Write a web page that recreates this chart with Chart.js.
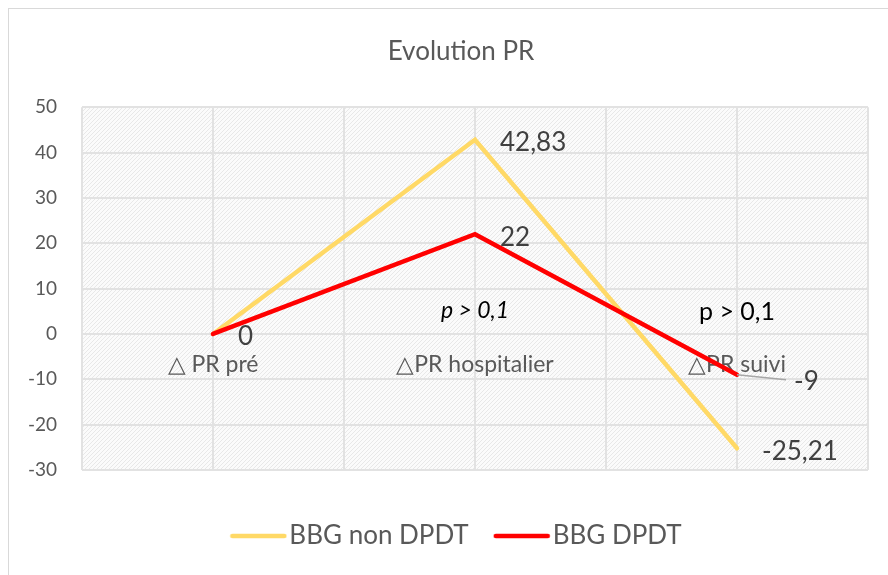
<!DOCTYPE html>
<html lang="fr">
<head>
    <meta charset="UTF-8">
    <title>Evolution PR</title>
    <script src="https://cdn.jsdelivr.net/npm/chart.js"></script>
    <style>
        body { margin: 0; background: #fff; overflow: hidden; }
        .frame {
            position: absolute;
            left: 8px;
            top: 8px;
            width: 896px;
            height: 580px;
            border: 1px solid #d9d9d9;
        }
    </style>
</head>
<body>

<div class="frame">
    <canvas id="prChart" width="896" height="580"></canvas>
</div>

<script>
    // Data
    const categories = ['△ PR pré', '△PR hospitalier', '△PR suivi'];
    const seriesNames = ['BBG non DPDT', 'BBG DPDT'];
    const nonDpdt = [0, 42.83, -25.21];
    const dpdt = [0, 22, -9];
    const yMin = -30, yMax = 50, yStep = 10;
    const pNotes = ['p > 0,1', 'p > 0,1'];

    const FONT = 'Lato, "Open Sans", sans-serif';
    const GRID = '#e2e2e2';

    // light diagonal hatch for the plot area
    function makeHatch(ctx) {
        const c = document.createElement('canvas');
        c.width = c.height = 4;
        const g = c.getContext('2d');
        g.fillStyle = '#fbfbfb';
        g.fillRect(0, 0, 4, 4);
        g.fillStyle = '#e8e8e8';
        for (let i = 0; i < 4; i++) g.fillRect(i, 3 - i, 1, 1);
        return ctx.createPattern(c, 'repeat');
    }

    // short thick line used as legend symbol
    function legendLine(color) {
        const c = document.createElement('canvas');
        c.width = 58;
        c.height = 8;
        const g = c.getContext('2d');
        g.strokeStyle = color;
        g.lineWidth = 4.5;
        g.lineCap = 'round';
        g.beginPath();
        g.moveTo(3, 4);
        g.lineTo(55, 4);
        g.stroke();
        return c;
    }

    const fmt = v => String(v).replace('.', ',');

    const backgroundPlugin = {
        id: 'hatchBg',
        beforeDraw(chart) {
            const { ctx, chartArea: a } = chart;
            ctx.save();
            ctx.fillStyle = makeHatch(ctx);
            ctx.fillRect(a.left, a.top, a.right - a.left, a.bottom - a.top);
            ctx.restore();
        }
    };

    const labelPlugin = {
        id: 'valueLabels',
        afterDatasetsDraw(chart) {
            const { ctx, scales } = chart;
            ctx.save();
            ctx.font = '26px ' + FONT;
            ctx.fillStyle = '#404040';
            ctx.textBaseline = 'middle';
            ctx.textAlign = 'left';
            const seen = {};
            chart.data.datasets.forEach((ds, di) => {
                const meta = chart.getDatasetMeta(di);
                meta.data.forEach((pt, i) => {
                    const txt = fmt(ds.data[i]);
                    const key = i + ':' + txt;
                    if (seen[key]) return;
                    seen[key] = true;
                    let dx = 25, dy = 3;
                    if (di === 1 && i === 2) {
                        // moved label with leader line
                        dx = 57; dy = 7;
                        ctx.strokeStyle = '#a6a6a6';
                        ctx.lineWidth = 1.5;
                        ctx.beginPath();
                        ctx.moveTo(pt.x, pt.y);
                        ctx.lineTo(pt.x + 49, pt.y + 5);
                        ctx.stroke();
                    }
                    ctx.fillText(txt, pt.x + dx, pt.y + dy);
                });
            });

            // significance notes
            ctx.fillStyle = '#000';
            ctx.textAlign = 'center';
            ctx.font = 'italic 23px ' + FONT;
            ctx.fillText(pNotes[0], scales.x.getPixelForValue(1), scales.y.getPixelForValue(5.1));
            ctx.font = '25px ' + FONT;
            ctx.fillText(pNotes[1], scales.x.getPixelForValue(2), scales.y.getPixelForValue(4.9));
            ctx.restore();
        }
    };

    const ctx = document.getElementById('prChart').getContext('2d');

    new Chart(ctx, {
        type: 'line',
        data: {
            labels: categories,
            datasets: [
                {
                    label: seriesNames[0],
                    data: nonDpdt,
                    borderColor: '#ffd966',
                    backgroundColor: '#ffd966',
                    borderWidth: 4.5,
                    borderCapStyle: 'round',
                    pointRadius: 0,
                    pointStyle: legendLine('#ffd966'),
                    tension: 0,
                    order: 1
                },
                {
                    label: seriesNames[1],
                    data: dpdt,
                    borderColor: '#ff0000',
                    backgroundColor: '#ff0000',
                    borderWidth: 4.5,
                    borderCapStyle: 'round',
                    pointRadius: 0,
                    pointStyle: legendLine('#ff0000'),
                    tension: 0,
                    order: 0
                }
            ]
        },
        options: {
            responsive: false,
            animation: false,
            devicePixelRatio: 1,
            layout: { padding: { left: 8, right: 0, top: 0, bottom: 30 } },
            plugins: {
                tooltip: { enabled: false },
                title: {
                    display: true,
                    text: 'Evolution PR',
                    color: '#595959',
                    font: { family: FONT, size: 26, weight: 'normal' },
                    padding: { top: 27, bottom: 40 }
                },
                legend: {
                    position: 'bottom',
                    labels: {
                        usePointStyle: true,
                        pointStyleWidth: 36,
                        color: '#595959',
                        font: { family: FONT, size: 26 },
                        padding: 35,
                        sort: (a, b) => a.datasetIndex - b.datasetIndex
                    }
                }
            },
            scales: {
                y: {
                    min: yMin,
                    max: yMax,
                    ticks: {
                        stepSize: yStep,
                        color: '#595959',
                        font: { family: FONT, size: 19 },
                        padding: 25
                    },
                    grid: { color: GRID, lineWidth: 2, drawTicks: false },
                    border: { display: false },
                    afterFit: s => { s.width = 65; }
                },
                // empty right margin, keeps plot edge where the original has it
                yRight: {
                    position: 'right',
                    min: yMin,
                    max: yMax,
                    ticks: { display: false },
                    grid: { display: false },
                    border: { display: false },
                    afterFit: s => { s.width = 37; }
                },
                x: {
                    type: 'category',
                    offset: true,
                    position: { y: 0 },
                    ticks: {
                        color: '#595959',
                        font: { family: FONT, size: 23 },
                        padding: 17,
                        maxRotation: 0
                    },
                    grid: { color: GRID, lineWidth: 2, offset: false, drawTicks: false },
                    border: { display: false },
                    afterFit: s => { s.height = 0; }
                },
                x2: {
                    type: 'category',
                    labels: categories,
                    offset: true,
                    position: 'bottom',
                    ticks: { display: false },
                    grid: { color: GRID, lineWidth: 2, offset: true, drawTicks: false },
                    border: { display: false },
                    afterFit: s => { s.height = 18; }
                }
            }
        },
        plugins: [backgroundPlugin, labelPlugin]
    });
</script>

</body>
</html>
